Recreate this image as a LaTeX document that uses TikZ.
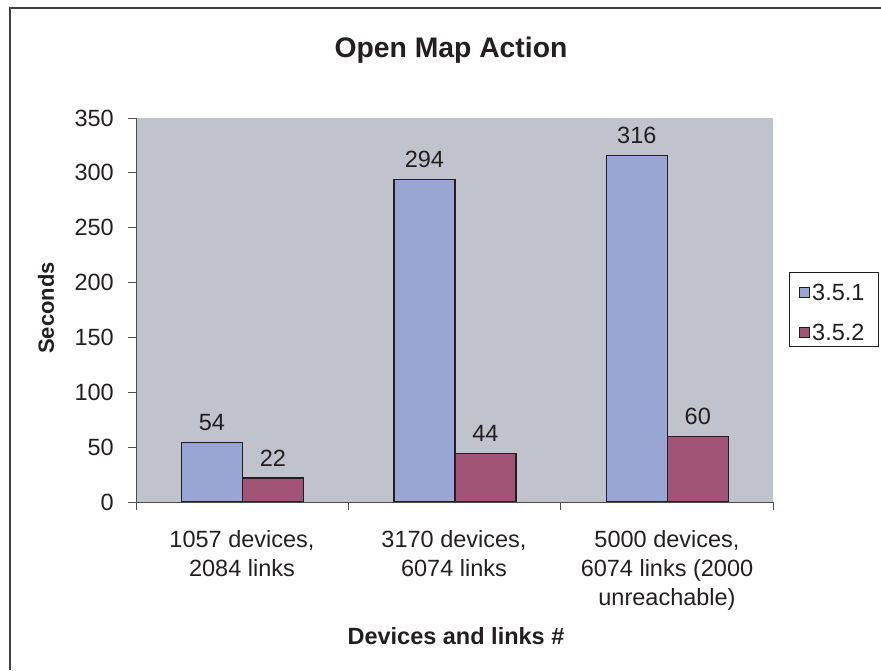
\documentclass[tikz,border=0pt]{standalone}
\usepackage{fontspec}
\setmainfont{Liberation Sans}
\definecolor{plotbg}{RGB}{192,195,203}
\definecolor{barblue}{RGB}{153,166,212}
\definecolor{barred}{RGB}{161,84,118}
\definecolor{ink}{RGB}{35,31,32}
\begin{document}
\begin{tikzpicture}[x=1pt,y=-1pt,
  lbl/.style={font=\fontsize{23.5}{29}\selectfont, text=ink, inner sep=0pt},
  axtitle/.style={font=\bfseries\fontsize{23.5}{26}\selectfont, text=ink, inner sep=0pt},
  charttitle/.style={font=\bfseries\fontsize{28.3}{32}\selectfont, text=ink, inner sep=0pt},
  barbox/.style={draw=ink, line width=1.3pt},
  axisline/.style={draw=black!70, line width=1pt},
  legbox/.style={draw=ink, line width=0.8pt}]
\useasboundingbox (0,0) rectangle (881,670);
% outer frame (left and top edges only)
\draw[black!75, line width=1.6pt] (10,670) -- (10,8) -- (881,8);
% plot area
\fill[plotbg] (136,118) rectangle (773,502);
% value axis with ticks and labels (1 unit = 384/350 pt)
\draw[axisline] (136,118) -- (136,502);
\foreach \v in {0,50,...,350} {
  \pgfmathsetmacro{\yy}{502-\v*1.097143}
  \draw[axisline] (128,\yy) -- (136,\yy);
  \node[lbl, anchor=east] (tick\v) at (114,\yy) {\v};
}
% bars: 3.5.1 and 3.5.2 per group
\foreach \c/\a/\b in {0/54/22, 1/294/44, 2/316/60} {
  \pgfmathsetmacro{\xx}{181.5+\c*212.4}
  \pgfmathsetmacro{\ya}{502-\a*1.097143}
  \pgfmathsetmacro{\yb}{502-\b*1.097143}
  \filldraw[barbox, fill=barblue] (\xx,\ya) rectangle ({\xx+61},502);
  \filldraw[barbox, fill=barred] ({\xx+61},\yb) rectangle ({\xx+122},502);
  \node[lbl] (vala\c) at ({\xx+30.5},{\ya-20}) {\a};
  \node[lbl] (valb\c) at ({\xx+91.5},{\yb-20}) {\b};
}
% category axis
\draw[axisline] (136,502) -- (773,502);
\foreach \x in {136,348.3,560.7,773} \draw[axisline] (\x,502) -- (\x,510);
% category labels
\node[lbl, anchor=north, align=center] (cat1) at (242,530) {1057 devices,\\2084 links};
\node[lbl, anchor=north, align=center] (cat2) at (454,530) {3170 devices,\\6074 links};
\node[lbl, anchor=north, align=center] (cat3) at (667,530) {5000 devices,\\6074 links (2000\\unreachable)};
% titles
\node[charttitle] (title) at (451,50) {Open Map Action};
\node[axtitle] (xtitle) at (456,636) {Devices and links \#};
\node[axtitle, font=\bfseries\fontsize{22}{26}\selectfont, rotate=90] (ytitle) at (46,308) {Seconds};
% legend
\draw[legbox] (789,272) rectangle (878,346);
\filldraw[draw=ink, line width=0.8pt, fill=barblue] (799,287) rectangle (809,297);
\filldraw[draw=ink, line width=0.8pt, fill=barred] (799,327) rectangle (809,337);
\node[lbl, anchor=west] (leg1) at (812,292) {3.5.1};
\node[lbl, anchor=west] (leg2) at (812,332) {3.5.2};
\end{tikzpicture}
\end{document}
